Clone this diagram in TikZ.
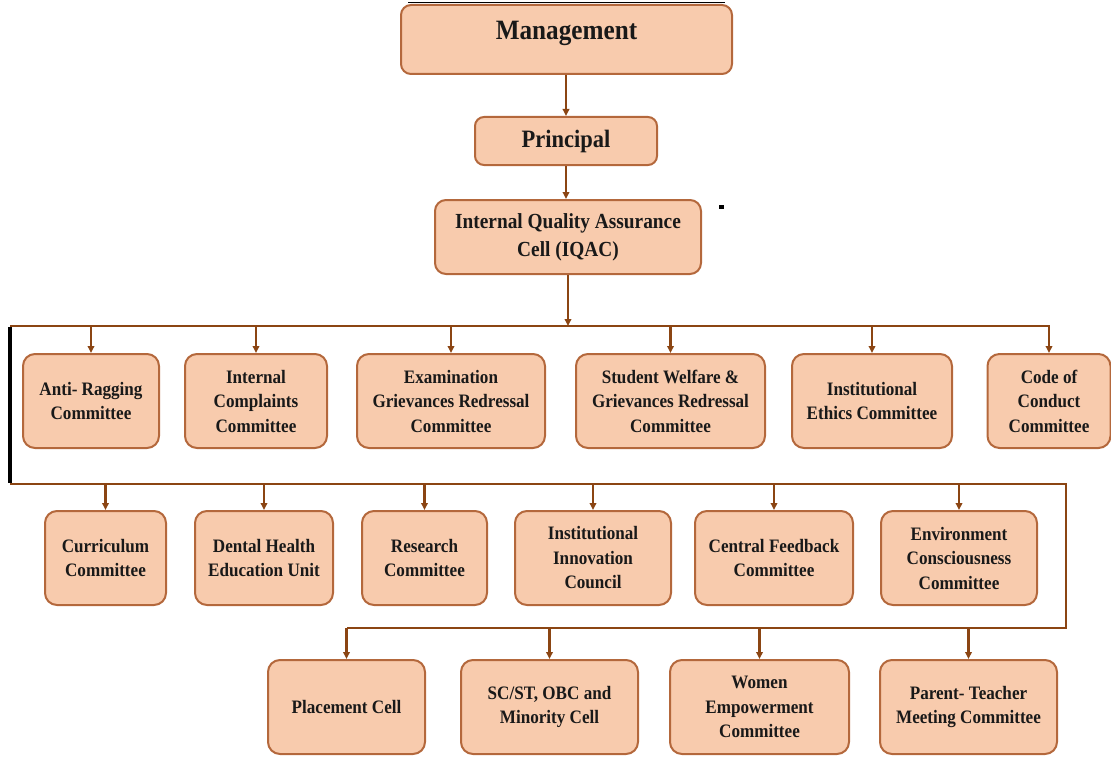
\documentclass[tikz,border=0pt]{standalone}
\usepackage{fontspec}
\setmainfont{Liberation Serif}[FakeStretch=0.9]
\usetikzlibrary{arrows.meta}
\definecolor{boxfill}{HTML}{F8CBAD}
\definecolor{boxline}{HTML}{B4683C}
\definecolor{linkc}{HTML}{8B4513}
\begin{document}
\begin{tikzpicture}[x=1pt,y=-1pt,
  orgbox/.style={draw=boxline, line width=2pt, fill=boxfill, rounded corners=12pt,
    align=center, inner sep=2pt, text=black!90,
    font=\bfseries\fontsize{19}{24.5}\selectfont},
  wire/.style={draw=linkc, line width=2.6pt},
  link/.style={wire, -{Triangle[length=7pt,width=6.5pt]}}
]
\useasboundingbox (0,0) rectangle (1111,757);

% top chain
\node[orgbox, minimum width=331pt, minimum height=69pt, rounded corners=10pt] (mgmt) at (566.5,39.5) {};
\node[font=\bfseries\fontsize{28}{30}\selectfont, text=black!90] (mgmtt) at ([yshift=6pt]mgmt.center) {Management};
\draw[black, line width=0.8pt] ([xshift=8pt,yshift=1.2pt]mgmt.north west) -- ([xshift=-8pt,yshift=1.2pt]mgmt.north east);
\node[orgbox, minimum width=182pt, minimum height=48pt, rounded corners=9pt,
  font=\bfseries\fontsize{25}{28}\selectfont] (prin) at (566,141) {Principal};
\node[orgbox, minimum width=266pt, minimum height=74pt, rounded corners=11pt,
  font=\bfseries\fontsize{21.5}{28}\selectfont] (iqac) at (568,237) {Internal Quality Assurance\\Cell (IQAC)};
\fill[black] (719,205) rectangle (723.5,209);

% row 1
\node[orgbox, minimum width=136pt, minimum height=94pt] (ar)  at (91,401)   {Anti- Ragging\\Committee};
\node[orgbox, minimum width=142pt, minimum height=94pt] (icc) at (256,401)  {Internal\\Complaints\\Committee};
\node[orgbox, minimum width=188pt, minimum height=94pt] (egr) at (451,401)  {Examination\\Grievances Redressal\\Committee};
\node[orgbox, minimum width=189pt, minimum height=94pt] (swg) at (670.5,401){Student Welfare \&\\Grievances Redressal\\Committee};
\node[orgbox, minimum width=160pt, minimum height=94pt] (iec) at (872,401)  {Institutional\\Ethics Committee};
\node[orgbox, minimum width=123pt, minimum height=94pt] (coc) at (1049,401) {Code of\\Conduct\\Committee};

% row 2
\node[orgbox, minimum width=121pt, minimum height=94pt] (cur) at (105.5,558) {Curriculum\\Committee};
\node[orgbox, minimum width=138pt, minimum height=94pt] (dhe) at (264,558)   {Dental Health\\Education Unit};
\node[orgbox, minimum width=125pt, minimum height=94pt] (res) at (424.5,558) {Research\\Committee};
\node[orgbox, minimum width=156pt, minimum height=94pt] (iic) at (593,558)   {Institutional\\Innovation\\Council};
\node[orgbox, minimum width=158pt, minimum height=94pt] (cfc) at (774,558)   {Central Feedback\\Committee};
\node[orgbox, minimum width=156pt, minimum height=94pt] (ecc) at (959,558)   {Environment\\Consciousness\\Committee};

% row 3
\node[orgbox, minimum width=157pt, minimum height=94pt] (pc)  at (346.5,707) {Placement Cell};
\node[orgbox, minimum width=177pt, minimum height=94pt] (sc)  at (549.5,707) {SC/ST, OBC and\\Minority Cell};
\node[orgbox, minimum width=179pt, minimum height=94pt] (we)  at (759.5,707) {Women\\Empowerment\\Committee};
\node[orgbox, minimum width=177pt, minimum height=94pt] (pt)  at (968.5,707) {Parent- Teacher\\Meeting Committee};

% bus coordinates
\coordinate (b1L) at (10,326);
\coordinate (b2L) at (10,484);
\coordinate (b2R) at (1066,484);
\coordinate (b3R) at (1066,628);

% connectors
\draw[link] (prin.north |- mgmt.south) -- (prin.north);
\draw[link] (prin.south) -- (prin.south |- iqac.north);
\draw[link] (iqac.south) -- (iqac.south |- b1L);
\draw[link] (b1L) -- (coc.north |- b1L) -- (coc.north);
\foreach \n in {ar,icc,egr,swg,iec} \draw[link] (\n.north |- b1L) -- (\n.north);
\draw[black, line width=4pt] ([yshift=-1pt]b1L) -- ([yshift=1pt]b2L);
\draw[wire] (b2L) -- (b2R) -- (b3R) -- (pc.north |- b3R);
\foreach \n in {cur,dhe,res,iic,cfc,ecc} \draw[link] (\n.north |- b2L) -- (\n.north);
\foreach \n in {pc,sc,we,pt} \draw[link] (\n.north |- b3R) -- (\n.north);
\end{tikzpicture}
\end{document}
